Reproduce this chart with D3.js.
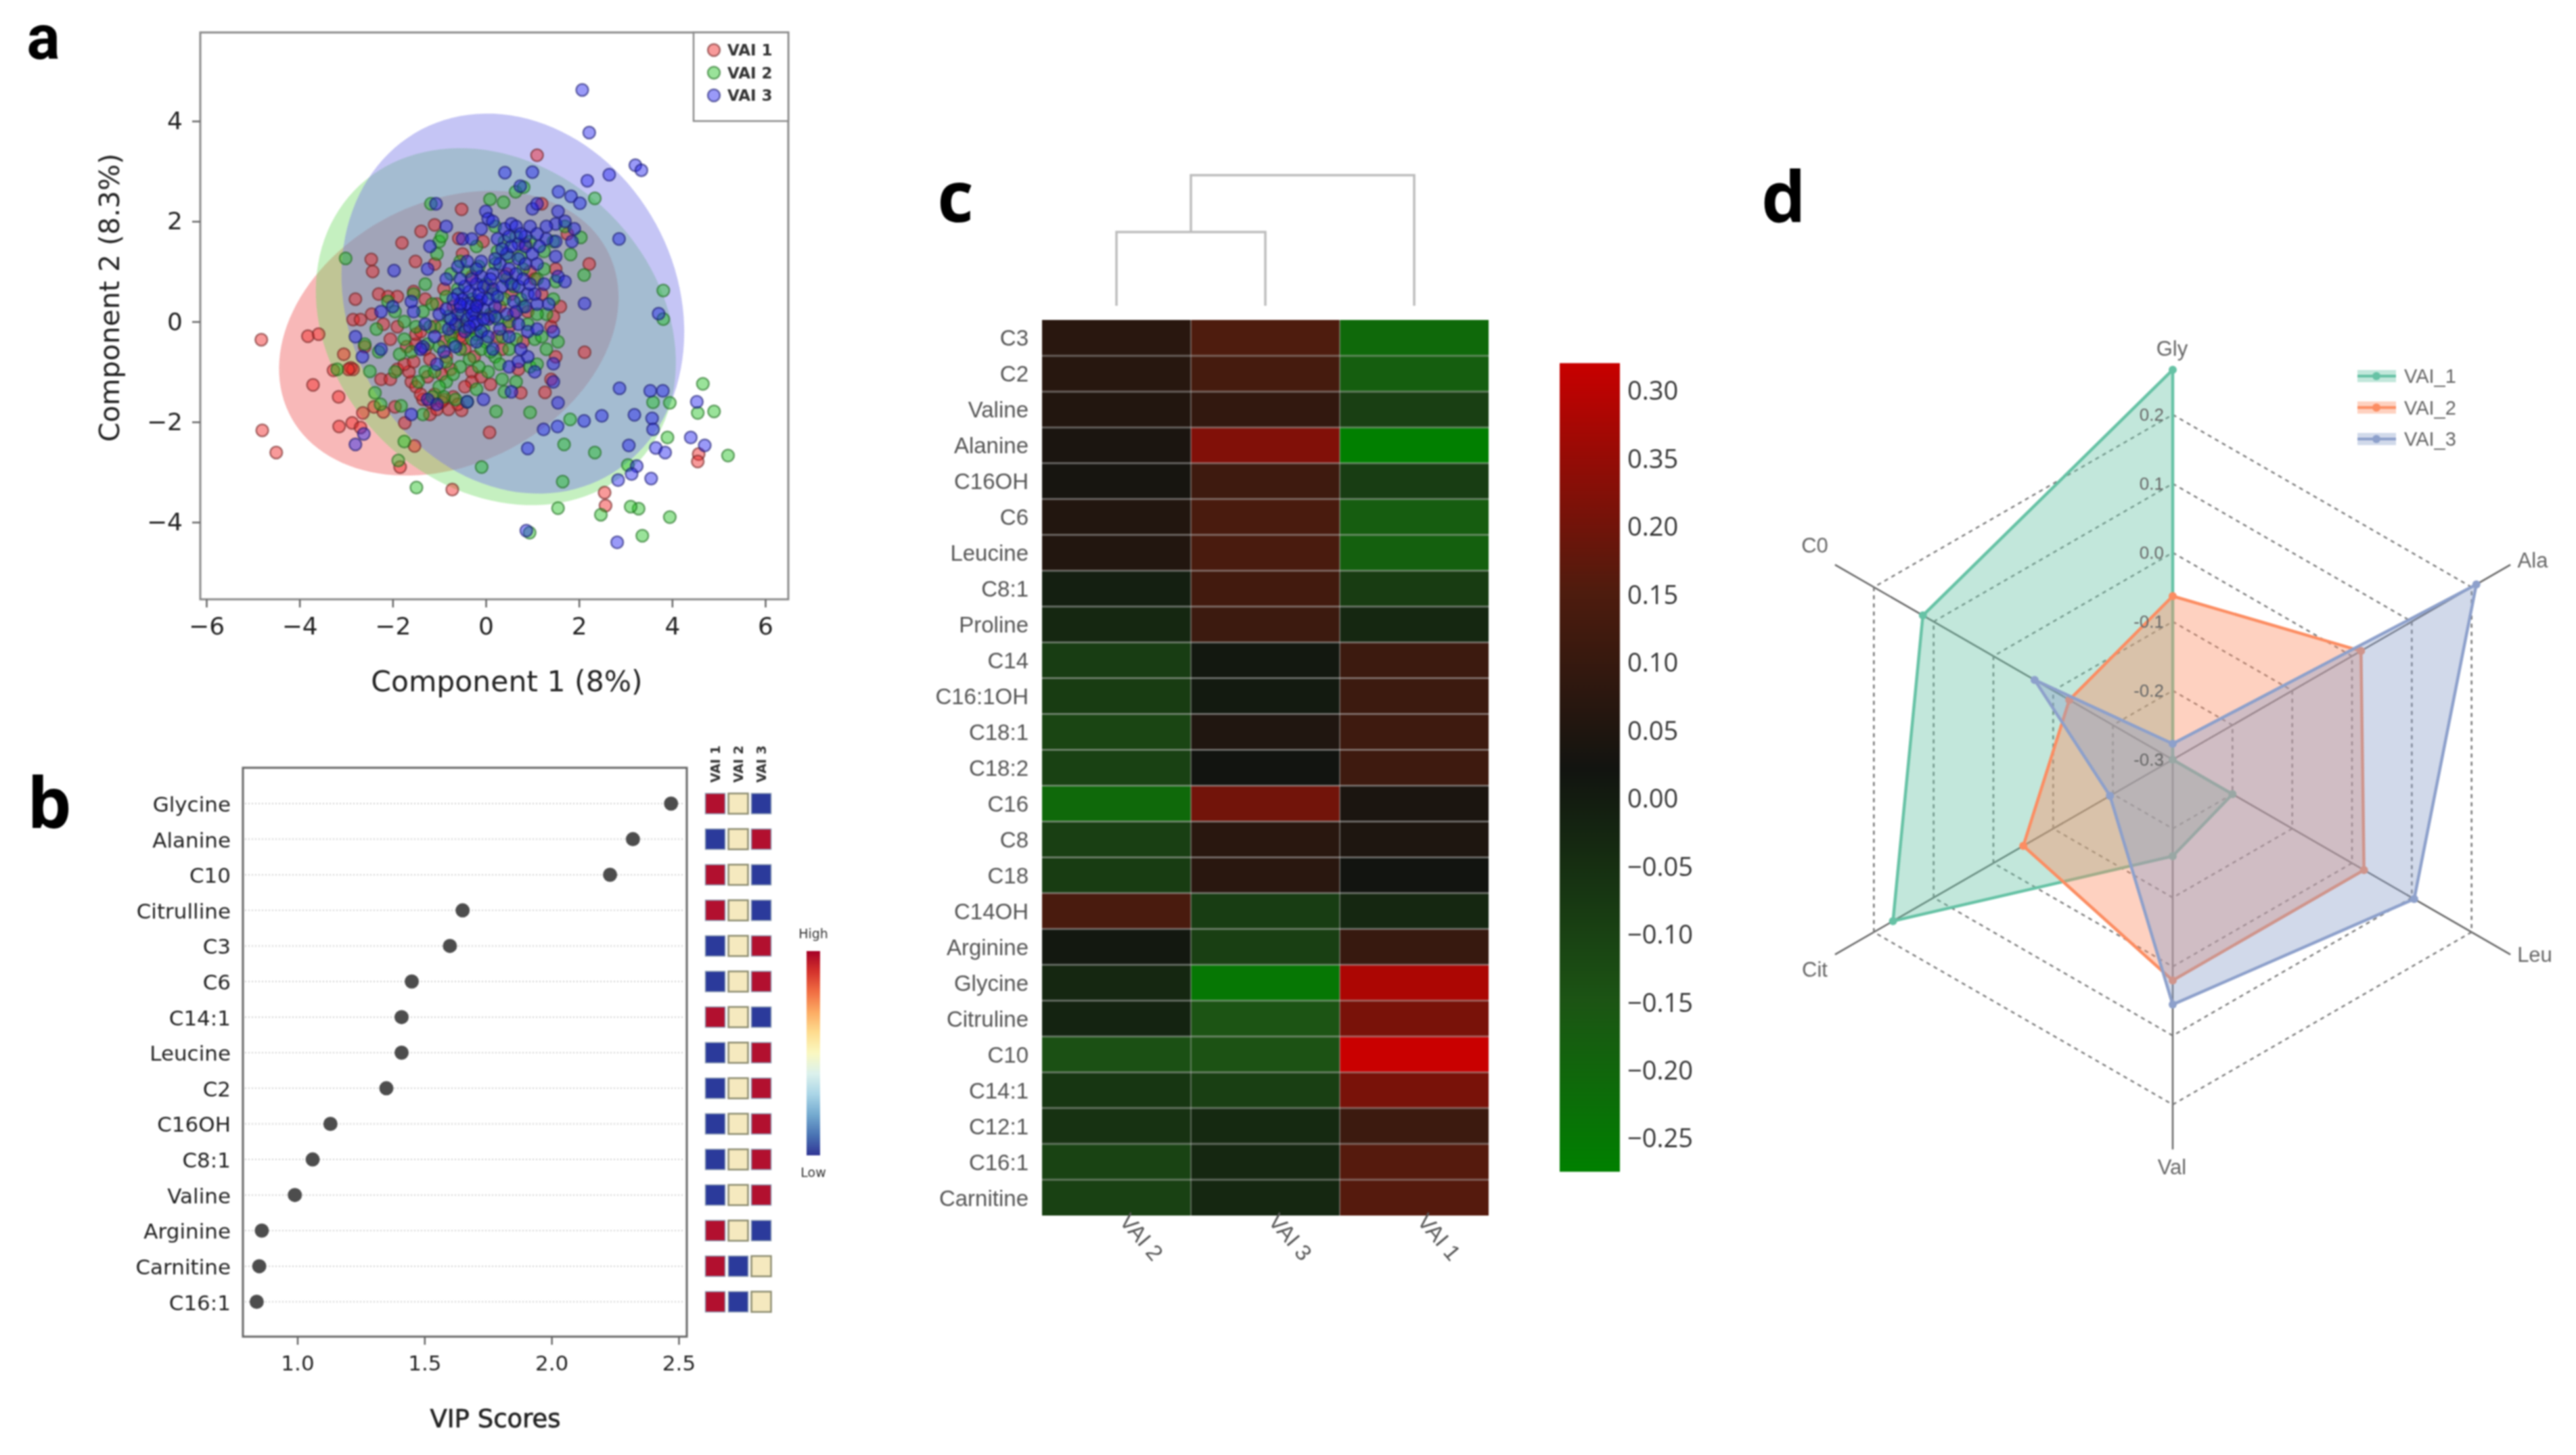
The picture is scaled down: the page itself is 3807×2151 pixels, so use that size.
<!DOCTYPE html>
<html><head><meta charset="utf-8">
<script src="https://cdn.jsdelivr.net/npm/d3@7"></script>
<style>html,body{margin:0;background:#fff}svg{display:block;filter:blur(1px)}</style></head>
<body><svg id="c" width="3807" height="2151"></svg>
<script>
// ---------- panel a data ----------
const scatterGroups=["VAI 1","VAI 2","VAI 3"];
const scatterFill=["#f02020","#20c020","#2020f0"];
const scatterEdge=["#702020","#1a6a1a","#181870"];
const hullFill=["#f17171","#6ed961","#7878e8"];
const hullAlpha=[.5,.4,.43];
const ellipses=[[-0.795,-0.23,3.645,2.84,0.25],[0.215,-0.1,3.865,3.56,-0.2],[0.58,0.36,3.68,3.79,-0.15]];
const redPts=[[-4.82,-.36],[-3.82,-.29],[-3.59,-.25],[-3.71,-1.26],[-4.8,-2.17],[-4.5,-2.61],[-3.16,-1.5],[-3.15,-2.09],[-2.87,-2.02],[-2.69,-2.11],[-3.05,-.65],[-2.9,-.92],[-3.27,-.97],[-2.64,-1.82],[-2.8,.45],[-2.85,.04],[-2.69,.04],[-2.43,1],[-2.46,1.24],[-1.8,1.57],[-1.39,1.8],[-1.1,1.93],[-1.51,1.2],[-.52,2.24],[-.58,1.66],[-.06,1.6],[1.1,3.32],[2.22,1.15],[2.12,-.61],[1.27,-1.41],[.75,-1.42],[.08,-2.21],[-.52,-1.77],[-1.74,-2.02],[-1.53,-2.48],[-1.84,-2.9],[-.72,-3.35],[2.55,-3.41],[2.57,-3.67],[4.57,-2.64],[4.55,-2.79],
[-2.3,.55],[-2.1,.5],[-1.9,.5],[-1.55,.6],[-1.3,.45],[-2.45,.15],[-2.2,-.05],[-2.05,-.35],[-1.7,-.5],[-1.5,-.45],[-2.6,-.5],[-2.25,-1.15],[-2.05,-1.15],[-1.9,-.95],[-1.6,-1.2],[-1.65,-1],[-1.75,-.85],[-1.5,-1.3],[-1.35,-1.55],[-1.2,-1.6],[-1.2,-1.85],[-1.05,-1.75],[-.9,-1.55],[-.7,-1.5],[-.6,-1.65],[-.8,-1.75],[-.95,-1.6],[-1.95,-1.7],[-2.4,-1.7],[-2.2,-1.8],[-.3,-1],[-.3,-1.2],[-.1,-1.1],[.1,-1.25],[.5,-.1],[.3,.3],[.55,.55],[.9,.2],[1.4,-.1],[1.45,.1],[1.5,-.7],[1.4,-1.15],[-.45,-.55],[-.5,-.35],[-.35,-.15],[-.7,-.2],[-.9,-.4],[-1.1,-.1],[-1.3,-.55],[-1.5,-.25],[-1.9,-.1],[-.7,.3],[-.9,.65],[-1.1,1.15],[-.5,1.35],[-.3,.9],[-.2,.35],[.1,.1],[.35,-.55],[.7,-.95],[1.2,.55],[1.6,.3],[1.75,1.75],[1.2,2.35],[.95,1],[1.5,1.05],
[-2.85,-.95],[-2.95,-.95],[-1.25,-1.1],[-1.55,-.8],[-.75,-.95],[-.55,-.3],[-.25,-.7],[-.6,.0],[-.2,.15],[.05,.7],[.45,.95],[.6,.15],[-.85,-.7],[-1.2,-.75],[-1.4,-.2],[-1.05,.35],[.25,-.3],[.8,-.4],[1.05,.85],[.85,1.55],[-1.4,-1.45],[-1.1,-1.45],[-.45,-1.3],[-.95,-1.05]];
const greenPts=[[-3.01,1.26],[-1.18,2.35],[.09,2.44],[.38,2.38],[.64,2.59],[.81,2.68],[2.34,2.46],[2.04,1.68],[1.82,1.34],[2.11,.93],[3.81,.62],[3.81,.05],[4.66,-1.24],[3.95,-1.62],[3.59,-1.61],[4.55,-1.82],[4.9,-1.79],[3.9,-2.31],[5.2,-2.67],[3.95,-3.9],[3.36,-4.27],[3.28,-3.73],[3.11,-3.69],[2.47,-3.85],[1.55,-3.72],[1.65,-3.19],[.94,-4.21],[2.34,-2.61],[1.68,-2.45],[1.81,-1.95],[.95,-1.81],[.22,-1.79],[3.05,-2.86],[-.09,-2.9],[-1.49,-3.31],[-1.75,-2.39],[-1.88,-2.77],[-2.38,-1.42],[-2.26,-1.65],[-1.82,-1.68],[-2.49,-.99],[-3.19,-.95],
[-2.35,-.15],[-2.1,.4],[-1.95,.2],[-1.75,0],[-1.55,.55],[-1.3,.75],[-1,1.6],[-.95,1.7],[-1.05,1.35],[-.55,1.2],[-.4,1],[-.2,1.5],[-.6,.65],[-.3,.45],[-.85,.5],[-1.2,-.1],[-1,-.5],[-.75,-.3],[-.55,-.55],[-.45,-.1],[-.2,-.25],[0,-.4],[.1,.15],[.35,-.3],[.5,0],[.75,.45],[.8,.3],[.45,.85],[.8,1.05],[.5,1.3],[.25,1.4],[.65,1.7],[.95,1.6],[1.25,1.4],[1.5,.8],[1.45,.45],[1.3,.15],[1.05,-.35],[1.2,-.3],[1.3,-.55],[1.55,-.4],[.95,-.9],[1.1,-.85],[.65,-1.2],[.4,-1.4],[.35,-1.15],[.05,-1],[-.2,-1.35],[-.55,-.9],[-.85,-1.2],[-1,-1.3],[-1.3,-1],[-1.45,-1.2],[-1.85,-.65],[-1.6,-.6],[-1.95,-1],[-2.3,-.6],[-2.6,-.45],[-.9,-1.5],[-.4,-1.6],[-1.35,-1.85],[1.45,1.6],[1.7,1.9],[.2,1.9],[-.2,.15],[-.1,-.55],[.2,-.7],[-1.15,.35],
[-.95,-.1],[-.8,.1],[-.65,-.1],[-.5,.15],[-.3,-.35],[-.7,-.45],[-.85,-.8],[-1.1,-1.0],[-.7,-1.05],[-.35,-.75],[-.15,-.9],[.1,-.6],[.3,-.85],[.5,-.55],[.65,-.35],[.9,-.05],[1.1,.15],[.25,.05],[.4,.45],[.15,.55],[0,.75],[.6,.7],[.2,1.15],[.4,1.6],[.75,1.3],[1.1,.85],[1.25,1.05],[-.15,1.1],[-.75,.95],[-1.35,.2],[-1.5,-.1],[-1.75,-.35],[-1.25,-.45],[-.05,-.15],[-1.15,-1.5],[-.65,-1.55]];
const bluePts=[[2.07,4.62],[2.22,3.77],[3.21,3.12],[3.34,3.02],[2.65,2.93],[2.18,2.81],[.41,2.97],[1,2.98],[.74,2.7],[1.56,2.59],[1.83,2.5],[2.02,2.36],[-1.07,2.35],[2.86,1.65],[2.12,.36],[3.71,.16],[2.87,-1.33],[3.53,-1.38],[3.8,-1.38],[4.53,-1.6],[3.19,-1.86],[2.49,-1.88],[2.11,-1.98],[1.54,-2.09],[1.24,-2.15],[1.55,-1.62],[.9,-2.53],[3.57,-1.93],[3.59,-2.15],[3.07,-2.47],[3.65,-2.52],[3.85,-2.61],[4.4,-2.31],[4.7,-2.47],[3.24,-2.88],[3.13,-3.04],[2.84,-3.16],[3.55,-3.13],[.87,-4.17],[2.82,-4.4],[-2.8,-2.45],[-2.62,-2.24],[-1.97,1.02],[1.45,-.84],
[0,2.2],[.05,2.05],[.15,2],[-.85,1.9],[-.5,1.65],[-.3,1.65],[-.1,1.85],[.4,1.85],[.55,1.95],[.65,1.9],[.7,1.55],[.85,1.5],[.95,1.9],[1,2.25],[1.1,2.35],[1.3,1.65],[1.5,1.6],[1.55,2.2],[1.5,1.95],[1.7,2],[1.9,1.85],[1.85,1.6],[-1.2,1.5],[-1.25,1.05],[-.85,.85],[-.6,1.1],[-.4,1.2],[-.1,.9],[.15,.95],[.3,1.15],[.5,1.05],[.65,.95],[1,1.35],[1.1,1.15],[1.5,1.3],[1.55,.9],[1.7,.8],[.15,.65],[.35,.7],[.6,.4],[.9,.55],[1.1,.35],[1.35,.35],[-.6,.55],[-.35,.6],[-.2,.75],[-.15,.4],[-.35,.3],[-.05,.25],[.05,.05],[-.6,.15],[-.4,.05],[-.2,-.05],[-.8,-.15],[-1,.15],[-1.3,-.05],[-1.55,.2],[-1.6,.4],[-2,.3],[-2.25,.2],[-.2,-.4],[.15,-.55],[.3,-.15],[.7,-.05],[.9,-.2],[1.1,-.15],[1.45,-.2],[.5,-.9],[.7,-.8],[.9,-.7],[1.05,-1],[1.45,-1.2],[.55,-1.4],[-.05,-1.55],[-.4,-1.6],[-1.05,-.85],[-1.35,-.5],[-1.4,-.55],[-2.25,-.55],[-2.8,-.3],[-2.65,-.7],[-1.6,-1.85],[-1.05,-1.65],[-.9,-.6],[-.55,.3],[-.25,.2],[-.1,.45],[.2,.3],[-.1,1.2],[.25,1.65],
[-.5,.45],[-.4,.35],[-.3,.15],[-.25,.0],[-.2,.3],[-.15,.55],[-.45,.7],[-.55,.85],[-.3,.85],[-.05,.7],[.05,.45],[.1,.85],[.25,.5],[.4,.9],[.55,.75],[.7,.7],[.8,.85],[.45,1.35],[.55,1.5],[.7,1.25],[.85,1.15],[.35,1.45],[.2,1.25],[-.2,1.05],[-.55,.35],[-.7,.45],[-.65,-.05],[-.45,-.2],[-.35,-.1],[-.75,.05],[-.85,.25],[-1.1,-.3],[-.05,.05],[.2,.1],[.45,.15],[.65,.2],[.85,.3],[1.05,.55],[1.25,.75],[.95,.75],[1.15,1.5],[1.3,1.9],[1.1,1.75],[.85,1.7],[.75,1.75],[.5,1.7],[-.1,-.2],[.05,-.3],[.5,-.3],[.75,-.55],[-1.25,-1.55],[-.65,-.5]];
// ---------- panel b data ----------
const vipNames=["Glycine","Alanine","C10","Citrulline","C3","C6","C14:1","Leucine","C2","C16OH","C8:1","Valine","Arginine","Carnitine","C16:1"];
const vipScores=[2.47,2.32,2.23,1.65,1.6,1.45,1.41,1.41,1.35,1.13,1.06,.99,.86,.85,.84];
const vipGroups=["VAI 1","VAI 2","VAI 3"];
const vipLevels=[[1,0,-1],[-1,0,1],[1,0,-1],[1,0,-1],[-1,0,1],[-1,0,1],[1,0,-1],[-1,0,1],[-1,0,1],[-1,0,1],[-1,0,1],[-1,0,1],[1,0,-1],[1,-1,0],[1,-1,0]];
// ---------- panel c data ----------
const heatRows=["C3","C2","Valine","Alanine","C16OH","C6","Leucine","C8:1","Proline","C14","C16:1OH","C18:1","C18:2","C16","C8","C18","C14OH","Arginine","Glycine","Citruline","C10","C14:1","C12:1","C16:1","Carnitine"];
const heatCols=["VAI 2","VAI 3","VAI 1"];
const heatVals=[[.07,.15,-.21],[.065,.13,-.18],[.055,.09,-.095],[.04,.22,-.273],[.03,.115,-.09],[.055,.14,-.175],[.055,.14,-.185],[-.01,.125,-.085],[-.03,.11,-.03],[-.09,.01,.11],[-.085,.005,.11],[-.11,.05,.115],[-.1,.02,.115],[-.21,.2,.04],[-.095,.07,.045],[-.085,.07,.02],[.14,-.09,-.03],[.01,-.095,.1],[-.03,-.25,.28],[-.02,-.15,.21],[-.14,-.145,.32],[-.07,-.095,.21],[-.06,-.035,.11],[-.105,-.03,.16],[-.1,-.03,.16]];
const heatTicks=[.3,.25,.2,.15,.1,.05,0,-.05,-.1,-.15,-.2,-.25];
const heatTickLabels=["0.30","0.35","0.20","0.15","0.10","0.05","0.00","−0.05","−0.10","−0.15","−0.20","−0.25"];
const dendroHeights=[0,1,1.77];
const heatStops=[-.276,-.15,.02,.15,.319];
const heatStopColors=["#008000","#1c5414","#121410","#4e1c0e","#c80000"];
// ---------- panel d data ----------
const radarAxes=["Gly","Ala","Leu","Val","Cit","C0"];
const radarNames=["VAI_1","VAI_2","VAI_3"];
const radarV1=[.265,-.3,-.2,-.16,.168,.118];
const radarV2=[-.063,.015,.02,.02,-.05,-.127];
const radarV3=[-.277,.208,.104,.055,-.195,-.069];
const radarRings=[-.2,-.1,0,.1,.2];
const radarTicks=[.2,.1,0,-.1,-.2,-.3];
const radarColors=["#66c2a5","#fc8d62","#8da0cb"];

const svg=d3.select("#c");
const DV="'DejaVu Sans',sans-serif", LS="'Liberation Sans',Arial,sans-serif", OS="'Open Sans',sans-serif";
function letter(t,x,y,f,s){svg.append("text").attr("x",x).attr("y",y).attr("text-anchor","middle").attr("font-family",f||OS).attr("font-weight",700).attr("font-size",s||104).attr("fill","#000").text(t);}
letter("a",64,87,"Roboto,sans-serif",92);letter("b",73,1224);letter("c",1412,328);letter("d",2636,328);

// ---- a ----
(function(){
 const x=d3.scaleLinear().domain([-6,6]).range([305,1131]);
 const y=d3.scaleLinear().domain([-4,4]).range([772,179]);
 const g=svg.append("g");
 const ts=d3.range(0,6.3,0.05);
 ellipses.forEach((e,i)=>{
  const path=d3.line().x(t=>x(e[0]+e[2]*Math.cos(t))).y(t=>y(e[1]+e[3]*Math.cos(t+Math.acos(e[4])))).curve(d3.curveLinearClosed);
  g.append("path").attr("d",path(ts)).attr("fill",hullFill[i]).attr("fill-opacity",hullAlpha[i]);
 });
 [redPts,greenPts,bluePts].forEach((pts,i)=>{
  g.append("g").selectAll("circle").data(pts).join("circle").attr("cx",d=>x(d[0])).attr("cy",d=>y(d[1])).attr("r",9)
   .attr("fill",scatterFill[i]).attr("fill-opacity",.45).attr("stroke",scatterEdge[i]).attr("stroke-opacity",.6).attr("stroke-width",2.5);
 });
 g.append("rect").attr("x",296).attr("y",48).attr("width",869).attr("height",838).attr("fill","none").attr("stroke","#8a8a8a").attr("stroke-width",3);
 const ax=g.append("g").attr("transform","translate(0,886)").call(d3.axisBottom(x).tickValues([-6,-4,-2,0,2,4,6]).tickSize(12).tickPadding(14));
 const ay=g.append("g").attr("transform","translate(296,0)").call(d3.axisLeft(y).tickValues([-4,-2,0,2,4]).tickSize(12).tickPadding(14));
 [ax,ay].forEach(a=>{a.select(".domain").remove();a.selectAll("line").attr("stroke","#666").attr("stroke-width",2.5);a.selectAll("text").attr("font-family",DV).attr("font-size",36).attr("fill","#222");});
 g.append("text").attr("x",749).attr("y",1022).attr("text-anchor","middle").attr("font-family",DV).attr("font-size",42.5).attr("fill","#222").text("Component 1 (8%)");
 g.append("text").attr("transform","translate(176,440) rotate(-90)").attr("text-anchor","middle").attr("font-family",DV).attr("font-size",41).attr("fill","#222").text("Component 2 (8.3%)");
 g.append("rect").attr("x",1025).attr("y",48).attr("width",140).attr("height",131).attr("fill","#fff").attr("stroke","#8a8a8a").attr("stroke-width",2.5);
 const ly=d3.scalePoint().domain(scatterGroups).range([74,141]);
 scatterGroups.forEach((n,i)=>{
  g.append("circle").attr("cx",1055).attr("cy",ly(n)).attr("r",9).attr("fill",scatterFill[i]).attr("fill-opacity",.45).attr("stroke",scatterEdge[i]).attr("stroke-opacity",.6).attr("stroke-width",2.5);
  g.append("text").attr("x",1075).attr("y",ly(n)+8).attr("font-family",DV).attr("font-weight",700).attr("font-size",23).attr("fill","#333").text(n);
 });
})();

// ---- b ----
(function(){
 const x=d3.scaleLinear().domain([1,2.5]).range([439.5,1003]);
 const y=d3.scalePoint().domain(vipNames).range([1188,1924.5]);
 const g=svg.append("g");
 g.selectAll("line.r").data(vipNames).join("line").attr("class","r").attr("x1",362).attr("x2",1012).attr("y1",d=>y(d)).attr("y2",d=>y(d)).attr("stroke","#d0d0d0").attr("stroke-width",2).attr("stroke-dasharray","2 3");
 g.append("rect").attr("x",359).attr("y",1135).attr("width",656).attr("height",841).attr("fill","none").attr("stroke","#666").attr("stroke-width",3);
 g.selectAll("circle").data(vipNames).join("circle").attr("cx",(d,i)=>x(vipScores[i])).attr("cy",d=>y(d)).attr("r",10.5).attr("fill","#4d4d4d");
 g.selectAll("text.n").data(vipNames).join("text").attr("class","n").attr("x",341).attr("y",d=>y(d)+12).attr("text-anchor","end").attr("font-family",DV).attr("font-size",31).attr("fill","#222").text(d=>d);
 const ax=g.append("g").attr("transform","translate(0,1976)").call(d3.axisBottom(x).tickValues([1,1.5,2,2.5]).tickFormat(d3.format(".1f")).tickSize(12).tickPadding(16));
 ax.select(".domain").remove();ax.selectAll("line").attr("stroke","#666").attr("stroke-width",2.5);ax.selectAll("text").attr("font-family",DV).attr("font-size",31).attr("fill","#222");
 g.append("text").attr("x",732).attr("y",2110).attr("text-anchor","middle").attr("font-family",DV).attr("font-size",37).attr("fill","#222").attr("stroke","#222").attr("stroke-width",.7).text("VIP Scores");
 const c=d3.scalePoint().domain(vipGroups).range([1057,1125]);
 const col=d3.scaleOrdinal().domain([-1,0,1]).range(["#2b3a9b","#f5e9bf","#b2102f"]);
 vipNames.forEach((n,i)=>vipGroups.forEach((v,j)=>{
  g.append("rect").attr("x",c(v)-14.5).attr("y",y(n)-15).attr("width",29).attr("height",30).attr("fill",col(vipLevels[i][j])).attr("stroke",vipLevels[i][j]==0?"#8c8c70":"#8899b0").attr("stroke-width",vipLevels[i][j]==0?2.5:1.5);
 }));
 vipGroups.forEach(v=>g.append("text").attr("transform",`translate(${c(v)+7},1157) rotate(-90)`).attr("font-family",DV).attr("font-weight",700).attr("font-size",19).attr("fill","#333").text(v));
 const defs=svg.append("defs");
 const lg=defs.append("linearGradient").attr("id","rdyl").attr("x1",0).attr("x2",0).attr("y1",0).attr("y2",1);
 d3.range(0,1.01,.1).forEach(t=>lg.append("stop").attr("offset",t).attr("stop-color",d3.interpolateRdYlBu(t)));
 g.append("rect").attr("x",1192).attr("y",1406).attr("width",20).attr("height",302).attr("fill","url(#rdyl)");
 g.append("text").attr("x",1202).attr("y",1387).attr("text-anchor","middle").attr("font-family",DV).attr("font-size",19).attr("fill","#333").text("High");
 g.append("text").attr("x",1202).attr("y",1740).attr("text-anchor","middle").attr("font-family",DV).attr("font-size",19).attr("fill","#333").text("Low");
})();

// ---- c ----
(function(){
 const x=d3.scaleBand().domain(heatCols).range([1540,2200]);
 const y=d3.scaleBand().domain(heatRows).range([473,1797]);
 const color=d3.scaleLinear().domain(heatStops).range(heatStopColors);
 const g=svg.append("g");
 heatRows.forEach((r,i)=>heatCols.forEach((c,j)=>{
  g.append("rect").attr("x",x(c)).attr("y",y(r)).attr("width",x.bandwidth()).attr("height",y.bandwidth()).attr("fill",color(heatVals[i][j]));
 }));
 heatRows.slice(1).forEach(r=>g.append("line").attr("x1",1540).attr("x2",2200).attr("y1",y(r)).attr("y2",y(r)).attr("stroke","#b4b4b4").attr("stroke-opacity",.45).attr("stroke-width",3));
 heatCols.slice(1).forEach(c=>g.append("line").attr("x1",x(c)).attr("x2",x(c)).attr("y1",473).attr("y2",1797).attr("stroke","#b4b4b4").attr("stroke-opacity",.45).attr("stroke-width",2));
 g.selectAll("text.n").data(heatRows).join("text").attr("class","n").attr("x",1520).attr("y",d=>y(d)+y.bandwidth()/2+12).attr("text-anchor","end").attr("font-family",LS).attr("font-size",33).attr("fill","#555").text(d=>d);
 heatCols.forEach(c=>g.append("text").attr("transform",`translate(${x(c)+x.bandwidth()/2+3},1806) rotate(50)`).attr("font-family",LS).attr("font-size",33).attr("fill","#555").text(c));
 // dendrogram
 const h=d3.scaleLinear().domain([0,dendroHeights[2]]).range([452,259]);
 const cx=c=>x(c)+x.bandwidth()/2, m=(cx(heatCols[0])+cx(heatCols[1]))/2;
 const dd=[[[cx(heatCols[0]),h(dendroHeights[0])],[cx(heatCols[0]),h(dendroHeights[1])],[cx(heatCols[1]),h(dendroHeights[1])],[cx(heatCols[1]),h(dendroHeights[0])]],
           [[m,h(dendroHeights[1])],[m,h(dendroHeights[2])],[cx(heatCols[2]),h(dendroHeights[2])],[cx(heatCols[2]),h(dendroHeights[0])]]];
 dd.forEach(d=>g.append("path").attr("d",d3.line()(d)).attr("fill","none").attr("stroke","#bdbdbd").attr("stroke-width",3.5));
 // colourbar
 const cb=d3.scaleLinear().domain([-.25,.3]).range([1680,575]);
 const lg=svg.append("defs").append("linearGradient").attr("id","rg").attr("x1",0).attr("x2",0).attr("y1",1).attr("y2",0);
 heatStops.forEach(v=>lg.append("stop").attr("offset",(v-heatStops[0])/(heatStops[4]-heatStops[0])).attr("stop-color",color(v)));
 g.append("rect").attr("x",2305).attr("y",cb(heatStops[4])).attr("width",89).attr("height",cb(heatStops[0])-cb(heatStops[4])).attr("fill","url(#rg)");
 const ax=g.append("g").attr("transform","translate(2394,0)").call(d3.axisRight(cb).tickValues(heatTicks).tickFormat((d,i)=>heatTickLabels[i]).tickSize(0).tickPadding(11));
 ax.select(".domain").remove();ax.selectAll("text").attr("font-family",OS).attr("font-size",38).attr("fill","#333").attr("dy",".42em");
})();

// ---- d ----
(function(){
 const cx=3211,cy=1123;
 const r=d3.scaleLinear().domain([-.3,.2]).range([0,510]);
 const ang=radarAxes.map((a,i)=>i*Math.PI/3);
 const px=(v,i)=>cx+r(v)*Math.sin(ang[i]), py=(v,i)=>cy-r(v)*Math.cos(ang[i]);
 const g=svg.append("g");
 const axMax=.265;
 radarAxes.forEach((a,i)=>g.append("line").attr("x1",cx).attr("y1",cy).attr("x2",px(axMax,i)).attr("y2",py(axMax,i)).attr("stroke","#666").attr("stroke-width",2.5));
 const closed=d3.line().curve(d3.curveLinearClosed);
 radarRings.forEach(v=>g.append("path").attr("d",closed(radarAxes.map((a,i)=>[px(v,i),py(v,i)]))).attr("fill","none").attr("stroke","#777").attr("stroke-width",2.5).attr("stroke-dasharray","6 6"));
 [radarV1,radarV2,radarV3].forEach((vals,k)=>{
  g.append("path").attr("d",closed(vals.map((v,i)=>[px(v,i),py(v,i)]))).attr("fill",radarColors[k]).attr("fill-opacity",.4).attr("stroke",radarColors[k]).attr("stroke-width",4.5);
  vals.forEach((v,i)=>g.append("circle").attr("cx",px(v,i)).attr("cy",py(v,i)).attr("r",6).attr("fill",radarColors[k]));
 });
 radarTicks.forEach(v=>g.append("text").attr("x",cx-13).attr("y",cy-r(v)+9).attr("text-anchor","end").attr("font-family",LS).attr("font-size",26).attr("fill","#666").text(v.toFixed(1)));
 const pos=[[3210,526],[3743,839],[3746,1422],[3210,1736],[2682,1444],[2682,817]];
 radarAxes.forEach((a,i)=>g.append("text").attr("x",pos[i][0]).attr("y",pos[i][1]).attr("text-anchor","middle").attr("font-family",LS).attr("font-size",31).attr("fill","#666").text(a));
 const ly=d3.scalePoint().domain(radarNames).range([556,649]);
 radarNames.forEach((n,k)=>{
  g.append("rect").attr("x",3484).attr("y",ly(n)-9).attr("width",57).attr("height",18).attr("fill",radarColors[k]).attr("fill-opacity",.4);
  g.append("line").attr("x1",3484).attr("x2",3541).attr("y1",ly(n)).attr("y2",ly(n)).attr("stroke",radarColors[k]).attr("stroke-width",4);
  g.append("circle").attr("cx",3512).attr("cy",ly(n)).attr("r",6).attr("fill",radarColors[k]);
  g.append("text").attr("x",3553).attr("y",ly(n)+10).attr("font-family",LS).attr("font-size",29).attr("fill","#666").text(n);
 });
})();
</script></body></html>
